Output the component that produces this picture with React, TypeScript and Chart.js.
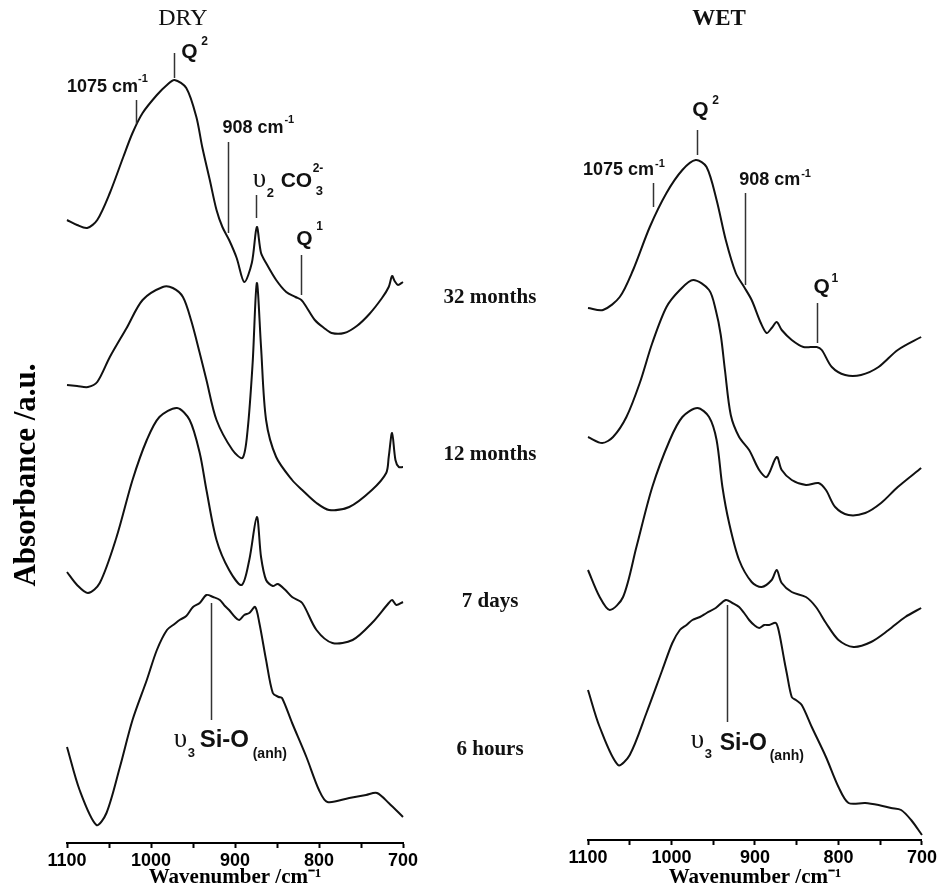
import React, { useEffect, useRef } from 'react';
import { Chart, registerables } from 'chart.js';
Chart.register(...registerables);

// ---------- DRY spectra (wavenumber /cm-1, stacked absorbance /a.u.) ----------
const dry32Wn = [1100,1088,1076,1064,1049,1033,1022,1010,993,981,972,958,946,939,930,922,915,907,898,889,880,874,869,863,851,839,828,821,815,805,794,785,770,755,740,725,717,713,710,706,700];
const dry32Abs = [6.23,6.18,6.15,6.23,6.50,6.86,7.10,7.30,7.48,7.58,7.63,7.55,7.26,6.96,6.63,6.33,6.16,6.03,5.85,5.61,5.80,6.16,5.90,5.80,5.63,5.51,5.46,5.43,5.36,5.23,5.15,5.10,5.10,5.17,5.29,5.45,5.56,5.67,5.62,5.58,5.61];

const dry12Wn = [1100,1088,1075,1064,1049,1029,1010,986,974,962,952,942,934,922,903,891,885,879,874,869,863,851,832,820,803,788,764,737,720,717,713,709,705,700];
const dry12Abs = [4.58,4.57,4.56,4.61,4.86,5.15,5.43,5.56,5.55,5.46,5.22,4.90,4.63,4.23,3.93,3.85,4.13,4.80,5.60,4.96,4.23,3.86,3.63,3.53,3.40,3.33,3.36,3.53,3.70,3.86,4.10,3.83,3.76,3.76];

const dry7dWn = [1100,1088,1075,1061,1041,1022,1005,990,969,954,942,934,922,907,892,883,874,869,863,855,849,840,832,820,803,784,760,737,717,713,708,700];
const dry7dAbs = [2.71,2.58,2.50,2.60,3.06,3.63,4.03,4.26,4.35,4.23,3.90,3.53,3.03,2.73,2.58,2.83,3.26,2.86,2.63,2.57,2.59,2.53,2.46,2.40,2.13,2.00,2.03,2.20,2.40,2.43,2.38,2.41];

const dry6hWn = [1100,1085,1065,1053,1037,1022,1005,993,981,972,966,958,950,942,934,926,918,912,907,900,895,889,883,876,871,863,855,848,844,832,815,800,790,764,744,731,717,700];
const dry6hAbs = [0.96,0.53,0.18,0.30,0.76,1.23,1.63,1.93,2.13,2.19,2.23,2.27,2.36,2.40,2.48,2.46,2.43,2.37,2.33,2.26,2.23,2.28,2.30,2.36,2.20,1.83,1.50,1.46,1.45,1.20,0.86,0.53,0.41,0.45,0.48,0.50,0.40,0.26];

// ---------- WET spectra ----------
const wet32Wn = [1100,1082,1062,1046,1026,1006,987,971,958,946,935,923,913,904,893,886,880,874,868,856,842,826,820,808,792,773,752,729,701];
const wet32Abs = [5.32,5.30,5.43,5.70,6.13,6.47,6.70,6.80,6.73,6.40,6.00,5.67,5.53,5.40,5.17,5.07,5.12,5.18,5.10,5.00,4.93,4.93,4.90,4.73,4.65,4.65,4.73,4.90,5.03];

const wet12Wn = [1100,1083,1070,1054,1038,1023,1006,990,974,955,947,941,936,929,919,907,895,886,874,868,856,839,824,815,804,788,768,749,729,701];
const wet12Abs = [4.03,3.97,4.03,4.23,4.57,4.97,5.33,5.50,5.60,5.50,5.30,5.05,4.70,4.25,4.03,3.90,3.70,3.63,3.83,3.70,3.60,3.55,3.57,3.50,3.33,3.25,3.27,3.37,3.53,3.72];

const wet7dWn = [1100,1086,1074,1058,1042,1023,1002,987,969,955,946,939,931,919,904,892,880,874,868,856,839,827,815,800,782,761,740,720,701];
const wet7dAbs = [2.70,2.43,2.30,2.43,2.93,3.53,4.00,4.23,4.32,4.23,4.00,3.53,3.17,2.80,2.58,2.53,2.60,2.70,2.57,2.48,2.43,2.33,2.17,2.00,1.93,1.98,2.10,2.23,2.32];

const wet6hWn = [1100,1086,1064,1050,1030,1011,999,990,982,975,966,958,947,935,927,919,913,907,901,895,889,883,875,871,865,862,856,851,844,832,815,800,788,768,752,737,725,713,700];
const wet6hAbs = [1.50,1.13,0.75,0.85,1.27,1.70,1.97,2.10,2.15,2.20,2.23,2.27,2.32,2.40,2.37,2.33,2.27,2.20,2.15,2.12,2.15,2.15,2.17,2.07,1.80,1.67,1.43,1.40,1.35,1.13,0.83,0.53,0.37,0.37,0.35,0.32,0.30,0.20,0.05];

// ---------- labels ----------
const xTicks = [1100, 1000, 900, 800, 700];
const timeLabels = ['32 months', '12 months', '7 days', '6 hours'];
const timeLabelLevels = [5.45, 3.88, 2.41, 0.93];

const SANS = '"Liberation Sans", Arial, sans-serif';
const SERIF = '"Liberation Serif", "Times New Roman", serif';
const LBL = `bold 18px ${SANS}`;
const QF = `bold 21px ${SANS}`;
const SUP = `bold 11px ${SANS}`;
const SUP12 = `bold 12px ${SANS}`;
const SUB = `bold 13px ${SANS}`;
const SUB14 = `bold 14px ${SANS}`;
const UPS = `27px ${SERIF}`;
const SIO = `bold 24px ${SANS}`;
const SIO23 = `bold 23px ${SANS}`;

// marker lines: wavenumber, from/to absorbance
const dryMarks = [
  { wn: 973, from: 7.65, to: 7.90 },
  { wn: 1018, from: 7.19, to: 7.43 },
  { wn: 908, from: 6.10, to: 7.01 },
  { wn: 874.5, from: 6.25, to: 6.48 },
  { wn: 821, from: 5.48, to: 5.88 },
  { wn: 929, from: 1.23, to: 2.40 },
];
const wetMarks = [
  { wn: 970, from: 6.85, to: 7.10 },
  { wn: 1022.6, from: 6.33, to: 6.57 },
  { wn: 912, from: 5.55, to: 6.47 },
  { wn: 826, from: 4.97, to: 5.37 },
  { wn: 933, from: 1.18, to: 2.35 },
];

type Part = [string, string, number, number];
const dryTexts: { wn: number; a: number; parts: Part[] }[] = [
  { wn: 1100, a: 7.51, parts: [['1075 cm', LBL, 0, 0], ['-1', SUP, 71, -10]] },
  { wn: 964, a: 7.85, parts: [['Q', QF, 0, 0], ['2', SUP12, 20, -13]] },
  { wn: 915, a: 7.10, parts: [['908 cm', LBL, 0, 0], ['-1', SUP, 62, -10]] },
  { wn: 879, a: 6.56, parts: [['υ', UPS, 0, 0], ['2', SUB, 14, 10], ['CO', QF, 28, 0], ['3', SUB, 63, 8], ['2-', SUP12, 60, -15]] },
  { wn: 827, a: 5.98, parts: [['Q', QF, 0, 0], ['1', SUP12, 20, -15]] },
  { wn: 973, a: 0.96, parts: [['υ', UPS, 0, 0], ['3', SUB, 14, 10], ['Si-O', SIO, 26, 0], ['(anh)', SUB14, 79, 11]] },
];
const wetTexts: { wn: number; a: number; parts: Part[] }[] = [
  { wn: 1106, a: 6.65, parts: [['1075 cm', LBL, 0, 0], ['-1', SUP, 72, -8]] },
  { wn: 975, a: 7.24, parts: [['Q', QF, 0, 0], ['2', SUP12, 20, -12]] },
  { wn: 919, a: 6.55, parts: [['908 cm', LBL, 0, 0], ['-1', SUP, 62, -8]] },
  { wn: 830, a: 5.47, parts: [['Q', QF, 0, 0], ['1', SUP12, 18, -11]] },
  { wn: 977, a: 0.92, parts: [['υ', UPS, 0, 0], ['3', SUB, 14, 10], ['Si-O', SIO23, 29, 2], ['(anh)', SUB14, 79, 12]] },
];

const toPts = (wn: number[], ab: number[]) => wn.map((w, i) => ({ x: w, y: ab[i] }));
const ds = (wn: number[], ab: number[]) => ({
  data: toPts(wn, ab),
  borderColor: '#111',
  borderWidth: 2,
  pointRadius: 0,
  fill: false,
  clip: false,
  tension: 0.3,
});

function annotPlugin(marks: any[], texts: any[], title: string, titleWn: number, titleFont: string, withTimes: boolean) {
  return {
    id: 'annot',
    afterDraw(chart: any) {
      const { ctx, scales } = chart;
      const x = scales.x, y = scales.y;
      ctx.save();
      ctx.strokeStyle = '#333';
      ctx.lineWidth = 1.5;
      marks.forEach((m) => {
        const px = Math.round(x.getPixelForValue(m.wn)) + 0.5;
        ctx.beginPath();
        ctx.moveTo(px, y.getPixelForValue(m.from));
        ctx.lineTo(px, y.getPixelForValue(m.to));
        ctx.stroke();
      });
      ctx.fillStyle = '#111';
      ctx.textAlign = 'left';
      ctx.textBaseline = 'alphabetic';
      texts.forEach((t) => {
        const px = x.getPixelForValue(t.wn);
        const py = y.getPixelForValue(t.a);
        t.parts.forEach(([s, f, dx, dy]: Part) => {
          ctx.font = f;
          ctx.fillText(s, px + dx, py + dy);
        });
      });
      ctx.textAlign = 'center';
      ctx.textBaseline = 'middle';
      ctx.font = titleFont;
      ctx.fillText(title, x.getPixelForValue(titleWn), 19);
      if (withTimes) {
        ctx.font = `bold 21px ${SERIF}`;
        timeLabels.forEach((lab, i) => {
          ctx.fillText(lab, chart.chartArea.right + 87, y.getPixelForValue(timeLabelLevels[i]));
        });
      }
      ctx.restore();
    },
  };
}

function xScale(height: number) {
  return {
    type: 'linear',
    reverse: true,
    min: 700,
    max: 1100,
    afterFit: (s: any) => { s.height = height; },
    border: { display: true, color: '#000', width: 2 },
    grid: {
      display: true,
      drawOnChartArea: false,
      drawTicks: true,
      tickLength: 5,
      color: '#000',
      tickColor: '#000',
      tickWidth: 2,
    },
    ticks: {
      stepSize: 50,
      autoSkip: false,
      maxRotation: 0,
      padding: 2,
      color: '#000',
      font: { family: SANS, size: 18, weight: 'bold' },
      callback: (v: any) => (xTicks.includes(Number(v)) ? String(v) : ''),
    },
    title: {
      display: true,
      text: 'Wavenumber /cm⁻¹',
      color: '#000',
      font: { family: SERIF, size: 21, weight: 'bold' },
      padding: { top: 0, bottom: 0 },
    },
  };
}

export default function App() {
  const leftRef = useRef<HTMLCanvasElement>(null);
  const rightRef = useRef<HTMLCanvasElement>(null);

  useEffect(() => {
    const left = new Chart(leftRef.current as HTMLCanvasElement, {
      type: 'line',
      data: {
        datasets: [
          ds(dry32Wn, dry32Abs),
          ds(dry12Wn, dry12Abs),
          ds(dry7dWn, dry7dAbs),
          ds(dry6hWn, dry6hAbs),
        ] as any,
      },
      options: {
        animation: false,
        responsive: false,
        devicePixelRatio: 1,
        layout: { padding: { left: 0, right: 137, top: 107, bottom: 0 } },
        plugins: { legend: { display: false }, tooltip: { enabled: false }, title: { display: false } },
        scales: {
          x: xScale(47) as any,
          y: {
            type: 'linear',
            min: 0,
            max: 7.36,
            afterFit: (s: any) => { s.width = 67; },
            ticks: { display: false },
            grid: { display: false },
            border: { display: false },
            title: {
              display: true,
              text: 'Absorbance /a.u.',
              color: '#000',
              font: { family: SERIF, size: 31, weight: 'bold' },
              padding: { top: 8, bottom: 0 },
            },
          } as any,
        },
      },
      plugins: [annotPlugin(dryMarks, dryTexts, 'DRY', 962, `24px ${SERIF}`, true)],
    } as any);

    const right = new Chart(rightRef.current as HTMLCanvasElement, {
      type: 'line',
      data: {
        datasets: [
          ds(wet32Wn, wet32Abs),
          ds(wet12Wn, wet12Abs),
          ds(wet7dWn, wet7dAbs),
          ds(wet6hWn, wet6hAbs),
        ] as any,
      },
      options: {
        animation: false,
        responsive: false,
        devicePixelRatio: 1,
        layout: { padding: { left: 48, right: 15, top: 0, bottom: 0 } },
        plugins: { legend: { display: false }, tooltip: { enabled: false }, title: { display: false } },
        scales: {
          x: xScale(50) as any,
          y: { type: 'linear', display: false, min: 0, max: 8.4 } as any,
        },
      },
      plugins: [annotPlugin(wetMarks, wetTexts, 'WET', 943, `bold 23px ${SERIF}`, false)],
    } as any);

    return () => {
      left.destroy();
      right.destroy();
    };
  }, []);

  return (
    <div style={{ position: 'absolute', left: 0, top: 0, width: 939, height: 890, background: '#fff', overflow: 'hidden' }}>
      <canvas ref={leftRef} width={540} height={890} style={{ position: 'absolute', left: 0, top: 0, width: 540, height: 890 }} />
      <canvas ref={rightRef} width={399} height={890} style={{ position: 'absolute', left: 540, top: 0, width: 399, height: 890 }} />
    </div>
  );
}
